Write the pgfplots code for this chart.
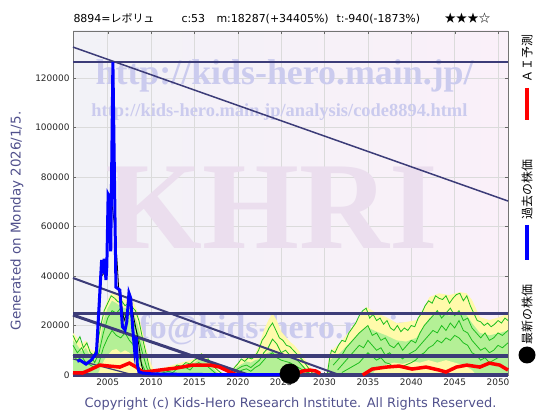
\documentclass[border=0pt]{standalone}
\usepackage{fontspec}
\setmainfont{DejaVu Sans}
\newfontfamily\cjk{Noto Sans CJK JP}
\newfontfamily\wm{Liberation Serif}
\usepackage{pgfplots}
\pgfplotsset{compat=1.18}

\definecolor{navy}{RGB}{60,60,120}
\definecolor{lbl}{RGB}{80,80,140}
\definecolor{fanY}{RGB}{255,250,170}
\definecolor{fanG}{RGB}{180,240,150}
\definecolor{gline}{RGB}{30,190,30}
\definecolor{wmblue}{RGB}{203,203,238}
\definecolor{wmpink}{RGB}{235,222,238}
\definecolor{bgL}{RGB}{242,242,247}
\definecolor{bgR}{RGB}{250,240,249}

\begin{document}
\begin{tikzpicture}
\path[use as bounding box] (0bp,0bp) rectangle (560bp,420bp);
\begin{axis}[
  at={(73bp,45bp)}, anchor=south west,
  scale only axis, width=435bp, height=344bp,
  xmin=2001.0, xmax=2051.15, ymin=0, ymax=139000,
  clip=false,
  unbounded coords=jump,
  axis background/.style={left color=bgL, right color=bgR},
  axis line style={draw=black!55, line width=0.6bp},
  grid=major,
  major grid style={draw=black!14, line width=0.6bp},
  xtick={2005,2010,...,2050},
  ytick={0,20000,...,120000},
  scaled y ticks=false,
  tick pos=both,
  major tick length=3bp,
  tick style={draw=black!60},
  /pgf/number format/assume math mode=true,
  xticklabel style={font=\fontsize{9}{10}\selectfont, text=black!85, /pgf/number format/1000 sep=},
  yticklabel style={font=\fontsize{9}{10}\selectfont, text=black!85, /pgf/number format/fixed, /pgf/number format/1000 sep=},
]
% watermarks
\node[anchor=base, text=wmpink, font=\wm\bfseries\fontsize{125}{125}\selectfont] at (axis cs:2023.9,51300) {KHRI};
\node[anchor=base, text=wmblue, font=\wm\bfseries\fontsize{36}{36}\selectfont] at (axis cs:2025.4,117200) {http://kids-hero.main.jp/};
\node[anchor=base, text=wmblue, font=\wm\bfseries\fontsize{18.5}{18.5}\selectfont] at (axis cs:2024.8,104600) {http://kids-hero.main.jp/analysis/code8894.html};
\node[anchor=base, text=wmblue, font=\wm\bfseries\fontsize{34}{34}\selectfont] at (axis cs:2025.2,14950) {info@kids-hero.main.jp};

% forecast fan: outer envelope
\addplot[draw=none, fill=fanY] coordinates {
(2001.0,17000) (2001.5,15000) (2002,12500) (2002.5,14000) (2003,10500) (2003.5,9500) (2004,15000) (2004.5,26000) (2005,30500) (2005.5,33500) (2006,33000) (2006.5,31000) (2007,30500) (2007.5,30000) (2008,29500) (2008.5,25000) (2009,18000) (2009.5,10000) (2010,4500) (2010.4,1500) (2011,2500) (2012,3500) (2013,4500) (2014,5500) (2015,6500) (2015.8,9000) (2016.5,7000) (2017,5000) (2017.5,3000) (2018,1500) (2018.5,500) (2019,300) (2019.5,3000) (2020,5000) (2020.5,6500) (2021,7500) (2021.5,8000) (2022,8500) (2022.5,12500) (2023,18000) (2023.5,22000) (2024,25000) (2024.5,22000) (2025,17500) (2025.5,15500) (2026,13500) (2026.5,12000) (2027,10000) (2027.5,7500) (2028,5000) (2028.5,2500) (2029,0) (2030.2,0) (2030.6,9300) (2031.8,12900) (2032.9,18000) (2034,23400) (2034.8,27500) (2036,25000) (2037.1,23400) (2038.3,21000) (2039.4,21400) (2040.6,22200) (2041.3,26300) (2042.1,31500) (2043.2,33000) (2044.4,32300) (2045.6,33500) (2046.4,33000) (2047,30300) (2047.9,23400) (2049,22200) (2050.2,23400) (2051.15,25000)
} \closedcycle;
% inner band
\addplot[draw=none, fill=fanG] coordinates {
(2001,14000) (2001.5,12000) (2002,9500) (2002.5,11000) (2003,7500) (2003.5,6500) (2004,12000) (2004.5,22000) (2005,27000) (2005.5,30000) (2006,29000) (2006.5,27500) (2007,27000) (2007.5,26500) (2008,25000) (2008.5,20000) (2009,13000) (2009.5,6000) (2010,1500) (2010.4,0) (2011,1500) (2012,2500) (2013,3500) (2014,4200) (2015,5000) (2015.8,7000) (2016.5,5000) (2017,3500) (2017.5,1500) (2018,0) (2019.2,0) (2019.5,2000) (2020,3500) (2020.5,4500) (2021,5500) (2021.5,5000) (2022,6000) (2022.5,6500) (2023,8000) (2023.5,9000) (2024,10000) (2024.5,9000) (2025,8000) (2025.5,8000) (2026,7500) (2026.5,6500) (2027,5500) (2027.5,4000) (2028,2000) (2028.5,0) (2030.3,0) (2030.6,6000) (2031.8,9000) (2032.9,13000) (2034,17000) (2034.8,19500) (2036,17500) (2037.1,16000) (2038.3,14000) (2039.4,13500) (2040.6,15000) (2041.3,19000) (2042.1,23000) (2043.2,25000) (2044.4,24000) (2045.6,25500) (2046.4,24000) (2047,21000) (2047.9,17000) (2049,16000) (2050.2,17000) (2051.15,18000)
} \closedcycle;
% low band
\addplot[draw=none, fill=fanY] coordinates {
(2003.8,0) (2004.2,3000) (2004.6,6000) (2005,8000) (2005.5,10000) (2006,10500) (2006.5,9000) (2007,10000) (2007.5,9000) (2008,7000) (2008.5,5000) (2009,2000) (2009.5,0) (2035.5,0) (2036,3000) (2037,4000) (2038,5000) (2039,4500) (2040,5500) (2041,5000) (2042,6000) (2043,5000) (2044,6000) (2045,5000) (2046,4000) (2047,2000) (2047.5,0)
} \closedcycle;

% forecast paths
\addplot[gline, line width=0.8bp] coordinates {
(2001,16000) (2001.4,13000) (2001.8,15500) (2002.2,11000) (2002.6,13000) (2003,9000) (2003.4,8000) (2003.8,12000) (2004.2,20000) (2004.6,26000) (2005,29000) (2005.4,32000) (2005.8,31000) (2006.2,29500) (2006.6,30000) (2007,28000) (2007.4,29000) (2007.8,27500) (2008.2,26000) (2008.6,22000) (2009,15000) (2009.4,9000) (2009.8,3000) (2010.2,0) (2010.3,nan)
(2010.4,0) (2011,2000) (2011.5,1500) (2012,3000) (2012.5,2500) (2013,4000) (2013.5,3500) (2014,5000) (2014.5,4500) (2015,6000) (2015.5,7000) (2015.8,8500) (2016.2,6000) (2016.6,6500) (2017,4000) (2017.5,2500) (2018,1000) (2018.5,0) (2018.7,nan)
(2019.2,0) (2019.6,3000) (2020,4500) (2020.4,6500) (2020.8,5500) (2021.2,7000) (2021.6,6500) (2022,7500) (2022.4,10000) (2022.8,14000) (2023.2,16000) (2023.6,19000) (2024,21000) (2024.4,18000) (2024.8,15000) (2025.2,14000) (2025.6,12000) (2026,11500) (2026.4,10000) (2026.8,8500) (2027.2,7000) (2027.6,5500) (2028,3500) (2028.4,1500) (2028.8,0) (2029.5,nan)
(2030.3,0) (2030.6,7000) (2030.8,10000) (2031.2,9000) (2031.6,12000) (2032,14000) (2032.4,13500) (2032.8,17000) (2033.2,19000) (2033.6,21000) (2034,24000) (2034.4,26000) (2034.8,27000) (2035.2,23000) (2035.6,24500) (2036,22000) (2036.4,23000) (2036.8,20500) (2037.2,22000) (2037.6,19000) (2038,18000) (2038.4,20000) (2038.8,17500) (2039.2,19000) (2039.6,18000) (2040,20000) (2040.4,19500) (2040.8,23000) (2041.2,25000) (2041.6,28000) (2042,30000) (2042.4,29000) (2042.8,32000) (2043.2,31000) (2043.6,30500) (2044,32000) (2044.4,29000) (2044.8,31000) (2045.2,32500) (2045.6,33000) (2046,30000) (2046.4,32000) (2046.8,28000) (2047.2,25000) (2047.6,22000) (2048,21500) (2048.4,20000) (2048.8,21000) (2049.2,19500) (2049.6,20500) (2050,22000) (2050.4,21000) (2050.8,23000) (2051.15,22000)
};
\addplot[gline, line width=0.8bp] coordinates {
(2001,12000) (2001.5,9000) (2002,11000) (2002.5,7000) (2003,8000) (2003.5,5000) (2004,9000) (2004.5,17000) (2005,23000) (2005.5,26000) (2006,25000) (2006.5,27000) (2007,24000) (2007.5,25000) (2008,21000) (2008.5,16000) (2009,9000) (2009.5,3000) (2010,0) (2010.5,nan)
(2011,500) (2012,1500) (2012.5,1000) (2013,2500) (2014,3000) (2014.5,2000) (2015,4000) (2015.5,5000) (2016,4000) (2016.5,3500) (2017,2000) (2017.5,500) (2018,nan)
(2019.5,1000) (2020,2500) (2020.5,3500) (2021,4000) (2021.5,3000) (2022,4500) (2022.5,6000) (2023,9000) (2023.5,11000) (2024,14500) (2024.5,12500) (2025,9000) (2025.5,10000) (2026,8000) (2026.5,7000) (2027,5500) (2027.5,3500) (2028,1500) (2028.5,0) (2029,nan)
(2031,4000) (2031.5,6000) (2032,8000) (2032.5,11000) (2033,13000) (2033.5,15000) (2034,17000) (2034.5,18500) (2035,20000) (2035.5,16000) (2036,17000) (2036.5,14000) (2037,15000) (2037.5,12000) (2038,11000) (2038.5,13000) (2039,10000) (2039.5,12000) (2040,14000) (2040.5,13000) (2041,17000) (2041.5,20000) (2042,22000) (2042.5,24000) (2043,26000) (2043.5,23000) (2044,25000) (2044.5,27000) (2045,24000) (2045.5,26000) (2046,22000) (2046.5,23000) (2047,19000) (2047.5,17000) (2048,15000) (2048.5,17000) (2049,14000) (2049.5,15000) (2050,17000) (2050.5,16000) (2051.15,18000)
};
\addplot[gline, line width=0.8bp] coordinates {
(2001,8000) (2001.5,6000) (2002,7500) (2002.5,5000) (2003,4000) (2003.5,3000) (2004,5000) (2004.5,11000) (2005,15000) (2005.5,18000) (2006,16000) (2006.5,15000) (2007,17000) (2007.5,14000) (2008,12000) (2008.5,8000) (2009,4000) (2009.5,500) (2010,nan)
(2020,1000) (2020.5,2000) (2021,2500) (2021.5,1500) (2022,3000) (2022.5,4000) (2023,6000) (2023.5,8000) (2024,9000) (2024.5,7000) (2025,6000) (2025.5,5500) (2026,5000) (2026.5,4000) (2027,3000) (2027.5,2000) (2028,1000) (2028.5,0) (2029,nan)
(2031.5,2000) (2032,4000) (2032.5,6000) (2033,8000) (2033.5,10000) (2034,12000) (2034.5,11000) (2035,14000) (2035.5,12000) (2036,10000) (2036.5,11000) (2037,8000) (2037.5,9000) (2038,7000) (2038.5,8000) (2039,6500) (2039.5,8000) (2040,9000) (2040.5,10000) (2041,12000) (2041.5,14000) (2042,16000) (2042.5,18000) (2043,17000) (2043.5,20000) (2044,18000) (2044.5,21000) (2045,19000) (2045.5,22000) (2046,18000) (2046.5,17000) (2047,14000) (2047.5,12000) (2048,10000) (2048.5,11000) (2049,9000) (2049.5,10000) (2050,12000) (2050.5,11000) (2051.15,13000)
};
\addplot[gline, line width=0.8bp] coordinates {
(2032,1000) (2033,3000) (2034,5000) (2034.5,7000) (2035,9000) (2035.5,7500) (2036,6000) (2036.5,7000) (2037,5000) (2037.5,4500) (2038,3000) (2039,3500) (2040,5000) (2040.5,6000) (2041,8000) (2041.5,9000) (2042,11000) (2042.5,12000) (2043,14000) (2043.5,13000) (2044,15000) (2044.5,14000) (2045,16000) (2045.5,15000) (2046,13000) (2046.5,12000) (2047,9000) (2047.5,8000) (2048,6000) (2048.5,7000) (2049,5000) (2049.5,6000) (2050,7000) (2051.15,8000)
};

% support / resistance lines
\addplot[navy, line width=1.5bp] coordinates {(2001.0,126500) (2051.15,126500)};
\addplot[navy, line width=3bp] coordinates {(2001.0,25000) (2051.15,25000)};
\addplot[navy, line width=3.5bp] coordinates {(2001.0,7700) (2051.15,7700)};
\addplot[navy, line width=3bp] coordinates {(2001.0,0) (2051.15,0)};
\addplot[navy, line width=1.5bp] coordinates {(2001.0,132500) (2051.15,70300)};
\addplot[navy, line width=2bp] coordinates {(2001.0,39200) (2031.7,0)};
\addplot[navy, line width=3bp] coordinates {(2001.0,24200) (2021.2,0)};
\addplot[navy, line width=1.2bp] coordinates {(2001.0,6500) (2008.0,0)};

% close
\addplot[black, line width=0.8bp] coordinates {
(2001.5,6000) (2002.5,4500) (2003.2,6000) (2003.8,9000) (2004.3,40000) (2004.8,42000) (2005.2,70000) (2005.5,69000) (2005.8,60000) (2006.1,45000) (2006.3,33000) (2006.6,28000) (2006.9,22000) (2007.2,25000) (2007.5,30000) (2007.9,25000) (2008.3,18000) (2008.6,12000) (2008.9,4000) (2009.2,500)
};

% AI forecast
\addplot[red, line width=3.5bp] coordinates {
(2001.0,900) (2002.1,800) (2002.9,2000) (2004.1,4000) (2005.2,3600) (2006.4,3200) (2007.5,4800) (2008.3,3200) (2009,1200) (2010,1500) (2011,2000) (2012.9,2800) (2014.8,4000) (2016.8,4000) (2017.9,3200) (2019.1,1200) (2019.4,800) (2019.9,0) (2022,nan)
(2026.9,800) (2027.5,1600) (2028.3,2000) (2029,1600) (2029.5,600) (2031,nan)
(2034.4,0) (2035.5,2400) (2037.1,3200) (2038.6,3600) (2040.1,2400) (2041.7,3200) (2043.2,2000) (2044,1200) (2045.2,3200) (2046.4,4000) (2047.9,3200) (2049,4800) (2050.2,4000) (2051.15,2000)
};

% past prices
\addplot[blue, line width=3bp] coordinates {
(2001.5,5500) (2001.8,6000) (2002.5,4400) (2003.1,6000) (2003.7,8900) (2004.0,27600) (2004.3,46500) (2004.5,41000) (2004.6,47000) (2004.8,38400) (2004.9,43800) (2005.05,73000) (2005.2,72000) (2005.35,50000) (2005.6,126500) (2005.95,35500) (2006.4,34300) (2006.7,19500) (2007.0,18200) (2007.2,21500) (2007.45,33100) (2007.65,31100) (2007.9,18200) (2008.1,10100) (2008.3,15500) (2008.4,4800) (2008.6,1300) (2009,800) (2010,500) (2011,400) (2013,300) (2016,200) (2020,150) (2026,100)
};

% latest
\addplot[only marks, mark=*, mark size=10bp, mark options={fill=black, draw=black}] coordinates {(2026.0,500)};
\end{axis}

% title
\node[anchor=base west, font=\fontsize{11}{12}\selectfont] at (70bp,397bp) {8894={\cjk レボリュ}};
\node[anchor=base west, font=\fontsize{11}{12}\selectfont] at (178bp,397bp) {c:53};
\node[anchor=base west, font=\fontsize{11}{12}\selectfont] at (213bp,397bp) {m:18287(+34405\%)};
\node[anchor=base west, font=\fontsize{11}{12}\selectfont] at (333bp,397bp) {t:-940(-1873\%)};
\node[anchor=base west, font=\cjk\fontsize{11.5}{12}\selectfont] at (441bp,397bp) {★★★☆};

% axis labels
\node[text=lbl, font=\fontsize{13}{14}\selectfont] at (290.5bp,16bp) {Copyright (c) Kids-Hero Research Institute. All Rights Reserved.};
\node[text=lbl, rotate=90, font=\fontsize{13.5}{14}\selectfont] at (17bp,199bp) {Generated on Monday 2026/1/5.};

% legend
\draw[red, line width=3.5bp] (527bp,332bp) -- (527bp,300bp);
\node[rotate=90, anchor=west, inner sep=0pt, font=\cjk\fontsize{12}{12}\selectfont] at (527bp,337bp) {ＡＩ予測};
\draw[blue, line width=3.5bp] (527bp,195bp) -- (527bp,160bp);
\node[rotate=90, anchor=west, inner sep=0pt, font=\cjk\fontsize{12}{12}\selectfont] at (527bp,200bp) {過去の株価};
\fill[black] (527bp,65bp) circle (8.5bp);
\node[rotate=90, anchor=west, inner sep=0pt, font=\cjk\fontsize{12}{12}\selectfont] at (527bp,75bp) {最新の株価};
\end{tikzpicture}
\end{document}
